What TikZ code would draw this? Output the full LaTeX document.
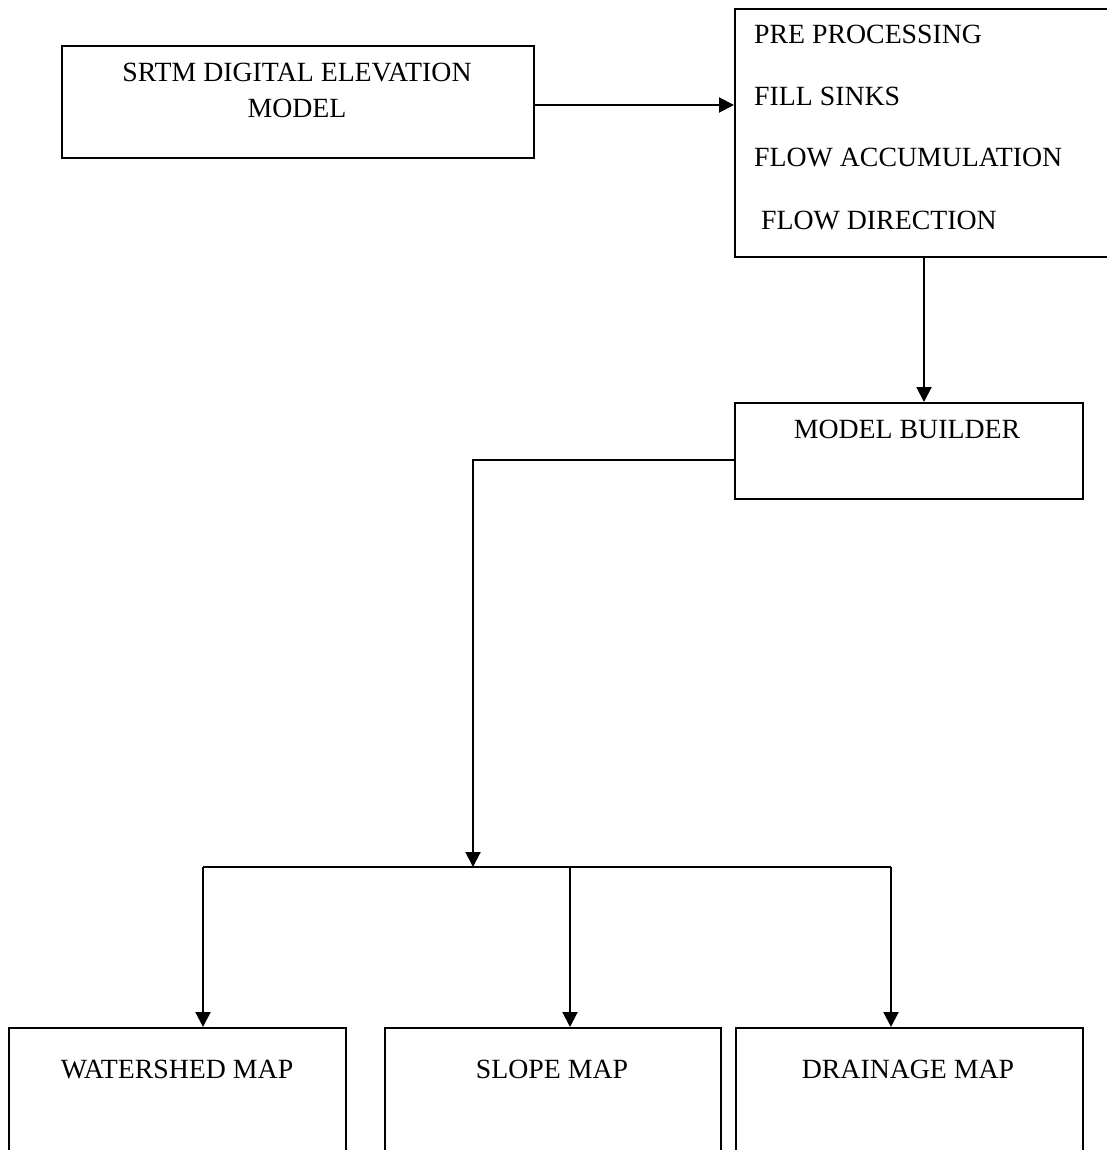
\documentclass[tikz,border=0pt]{standalone}
\usepackage{fontspec}
\setmainfont{Liberation Serif}
\usetikzlibrary{arrows.meta}
\begin{document}
\begin{tikzpicture}[x=1pt,y=-1pt,
  box/.style={draw,line width=2pt,inner sep=0pt,anchor=north west},
  lbl/.style={inner sep=0pt,anchor=base,font=\fontsize{27.8}{27.8}\selectfont},
  lbll/.style={lbl,anchor=base west},
  link/.style={line width=2pt},
  arr/.style={link,-{Triangle[length=15pt,width=15pt]}}]
\useasboundingbox (0,0) rectangle (1107,1150);

% boxes (north-west corner, size)
\node[box,minimum width=472pt,minimum height=112pt] (srtm) at (61,45) {};
\node[box,minimum width=390pt,minimum height=248pt] (pre) at (734,8) {};
\node[box,minimum width=348pt,minimum height=96pt] (mb) at (734,402) {};
\node[box,minimum width=337pt,minimum height=140pt] (ws) at (8,1027) {};
\node[box,minimum width=336pt,minimum height=140pt] (sl) at (384,1027) {};
\node[box,minimum width=347pt,minimum height=140pt] (dr) at (735,1027) {};

% labels
\node[lbl] (srtm1) at (297,82) {SRTM DIGITAL ELEVATION};
\node[lbl] (srtm2) at (297,118) {MODEL};
\node[lbll] (p1) at (754,44) {PRE PROCESSING};
\node[lbll] (p2) at (754,106) {FILL SINKS};
\node[lbll] (p3) at (754,167) {FLOW ACCUMULATION};
\node[lbll] (p4) at (761,230) {FLOW DIRECTION};
\node[lbl] (mbt) at (907,438) {MODEL BUILDER};
\node[lbl] (wst) at (177,1078) {WATERSHED MAP};
\node[lbl] (slt) at (552,1078) {SLOPE MAP};
\node[lbl] (drt) at (908,1078) {DRAINAGE MAP};

% connectors
\coordinate (split) at (473,867);
\coordinate (b1) at (203,867);
\coordinate (b2) at (570,867);
\coordinate (b3) at (891,867);

\draw[arr] ([yshift=-3pt]srtm.east) -- ([yshift=-3pt]srtm.east -| pre.west);
\draw[arr] (924,256) -- (924,402);
\draw[arr] ([yshift=-9pt]mb.west) -| (split);
\draw[link] (b1) -- (b3);
\draw[arr] (b1) -- (b1 |- ws.north);
\draw[arr] (b2) -- (b2 |- sl.north);
\draw[arr] (b3) -- (b3 |- dr.north);
\end{tikzpicture}
\end{document}
